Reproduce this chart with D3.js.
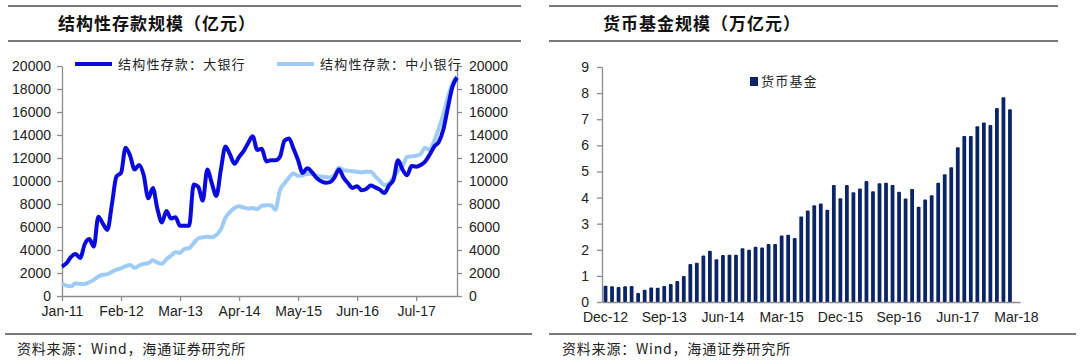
<!DOCTYPE html>
<html>
<head>
<meta charset="utf-8">
<script src="https://cdn.jsdelivr.net/npm/d3@7"></script>
<style>
  body { margin: 0; background: #fff; }
  svg { display: block; }
  .tick text { font-family: Arial, "Liberation Sans", sans-serif; font-size: 14px; fill: #222; }
  .cjk { font-family: "Noto Sans CJK SC", sans-serif; }
</style>
</head>
<body>
<svg id="chart" width="1080" height="364"></svg>
<script>
// ---- left panel: structured deposits (100m yuan), monthly Jan-11 .. Apr-18
const depositTicks = ['Jan-11', 'Feb-12', 'Mar-13', 'Apr-14', 'May-15', 'Jun-16', 'Jul-17'];
const bigBanks = [
  2550, 2850, 3400, 3650, 3300, 4500, 4950, 4300, 6900, 6300,
  5750, 8000, 10400, 10700, 12900, 12200, 11000, 11400, 10500, 8500,
  9400, 7600, 6400, 7400, 6750, 6850, 6100, 6100, 6100, 9700,
  9500, 8300, 11000, 9800, 8700, 11000, 13000, 12300, 11500, 12100,
  12600, 13300, 13900, 12700, 12800, 11700, 11800, 11800, 12100, 13500,
  13700, 12800, 11800, 10700, 11100, 10800, 10300, 10000, 9850, 9900,
  10300, 11000, 10300, 9800, 9400, 9550, 9200, 9300, 9600, 9450,
  9250, 8950, 9600, 10100, 11800, 11000, 10500, 11300, 11250, 11400,
  11700, 12300, 13000, 13400, 14500, 16400, 18200, 19000
];
const smallBanks = [
  1100, 900, 850, 1100, 1050, 1040, 1200, 1400, 1700, 1850,
  1900, 2100, 2300, 2400, 2600, 2700, 2450, 2650, 2800, 2850,
  3100, 2900, 2800, 3200, 3500, 3800, 3750, 4100, 4150, 4600,
  5000, 5100, 5150, 5100, 5300, 5800, 6800, 7300, 7650, 7800,
  7700, 7600, 7650, 7550, 7850, 7900, 7900, 7500, 9200, 9800,
  10300, 10650, 10450, 10500, 10600, 10600, 10450, 10400, 10350, 10300,
  10500, 11150, 10950, 10900, 10850, 10800, 10750, 10800, 10800, 10400,
  10000, 9650, 9800, 10300, 10900, 11300, 12100, 12150, 12200, 12350,
  12900, 12700, 13500, 14600, 15800, 17300, 18500, 19100
];
const depositNames = ['结构性存款：大银行', '结构性存款：中小银行'];

// ---- right panel: money market fund size (trillion yuan), monthly Dec-12 .. Mar-18
const fundTicks = ['Dec-12', 'Sep-13', 'Jun-14', 'Mar-15', 'Dec-15', 'Sep-16', 'Jun-17', 'Mar-18'];
const fundSize = [
  0.62, 0.60, 0.57, 0.60, 0.61, 0.34, 0.47, 0.56, 0.55, 0.61,
  0.69, 0.80, 1.00, 1.46, 1.50, 1.78, 1.96, 1.64, 1.80, 1.81,
  1.81, 2.06, 2.00, 2.12, 2.09, 2.22, 2.22, 2.55, 2.58, 2.45,
  3.27, 3.50, 3.71, 3.77, 3.53, 4.48, 3.97, 4.48, 4.20, 4.35,
  4.63, 4.24, 4.55, 4.57, 4.48, 4.22, 3.96, 4.33, 3.65, 3.93,
  4.09, 4.57, 4.89, 5.16, 5.93, 6.36, 6.36, 6.73, 6.87, 6.78,
  7.43, 7.84, 7.38
];
const fundName = '货币基金';

const fmt = d3.timeFormat('%b-%y');
const depositMonths = d3.timeMonth.range(new Date(2011, 0, 1), new Date(2018, 4, 1)).map(fmt);
const fundMonths = d3.timeMonth.range(new Date(2012, 11, 1), new Date(2018, 3, 1)).map(fmt);

const svg = d3.select('#chart');
const grey = '#8c8c8c';
const rule = '#4d4d4d';

// frame rules, titles and source lines
const panels = [
  { x0: 8, x1: 521, fx0: 5, fx1: 532, title: '结构性存款规模（亿元）', tx: 58, sx: 17 },
  { x0: 549, x1: 1058, fx0: 549, fx1: 1076, title: '货币基金规模（万亿元）', tx: 603, sx: 562 }
];
panels.forEach(p => {
  svg.append('line').attr('x1', p.x0).attr('x2', p.x1).attr('y1', 6).attr('y2', 6)
    .attr('stroke', rule).attr('stroke-width', 1.5);
  svg.append('line').attr('x1', p.x0).attr('x2', p.x1).attr('y1', 41).attr('y2', 41)
    .attr('stroke', rule).attr('stroke-width', 1.5);
  svg.append('line').attr('x1', p.fx0).attr('x2', p.fx1).attr('y1', 334).attr('y2', 334)
    .attr('stroke', rule).attr('stroke-width', 1.5);
  svg.append('text').attr('class', 'cjk').attr('x', p.tx).attr('y', 30)
    .attr('font-size', 17).attr('font-weight', 'bold').attr('fill', '#111')
    .attr('letter-spacing', 1)
    .text(p.title);
  svg.append('text').attr('class', 'cjk').attr('x', p.sx).attr('y', 354)
    .attr('font-size', 14).attr('fill', '#222').attr('letter-spacing', 0.8)
    .text('资料来源：Wind，海通证券研究所');
});

function styleAxis(g) {
  g.selectAll('.domain').attr('stroke', grey).attr('stroke-width', 1.3);
  g.selectAll('.tick line').attr('stroke', grey).attr('stroke-width', 1.3);
  g.attr('font-family', null).attr('font-size', null);
}

// ---- left chart
const xL = d3.scalePoint().domain(depositMonths).range([62, 457]);
const yL = d3.scaleLinear().domain([0, 20000]).range([296, 66]);
const plain = d3.format('d');

svg.append('g').attr('transform', 'translate(62,0)')
  .call(d3.axisLeft(yL).tickValues(d3.range(0, 20001, 2000)).tickFormat(plain)
    .tickSize(5).tickSizeOuter(0).tickPadding(6))
  .call(styleAxis);
svg.append('g').attr('transform', 'translate(457,0)')
  .call(d3.axisRight(yL).tickValues(d3.range(0, 20001, 2000)).tickFormat(plain)
    .tickSize(5).tickSizeOuter(0).tickPadding(7))
  .call(styleAxis);
svg.append('g').attr('transform', 'translate(0,296)')
  .call(d3.axisBottom(xL).tickValues(depositTicks).tickSize(5).tickSizeOuter(0).tickPadding(5))
  .call(styleAxis);

const line = d3.line().x((d, i) => xL(depositMonths[i])).y(d => yL(d)).curve(d3.curveMonotoneX);
const depositColors = ['#0a0adc', '#9fcbf7'];
svg.append('path').datum(smallBanks).attr('d', line)
  .attr('fill', 'none').attr('stroke', depositColors[1]).attr('stroke-width', 4).attr('stroke-linejoin', 'round');
svg.append('path').datum(bigBanks).attr('d', line)
  .attr('fill', 'none').attr('stroke', depositColors[0]).attr('stroke-width', 4).attr('stroke-linejoin', 'round');

// legend
const legendL = [{ x: 75, name: depositNames[0], c: depositColors[0] }, { x: 277, name: depositNames[1], c: depositColors[1] }];
legendL.forEach(d => {
  svg.append('line').attr('x1', d.x).attr('x2', d.x + 37).attr('y1', 64).attr('y2', 64)
    .attr('stroke', d.c).attr('stroke-width', 4);
  svg.append('text').attr('class', 'cjk').attr('x', d.x + 43).attr('y', 69)
    .attr('font-size', 13).attr('letter-spacing', 1.2).attr('fill', '#222').text(d.name);
});

// ---- right chart
const xR = d3.scaleBand().domain(fundMonths).range([602, 1020]).paddingInner(0.42).paddingOuter(0.25);
const yR = d3.scaleLinear().domain([0, 9]).range([302, 67]);

svg.append('g').attr('transform', 'translate(602,0)')
  .call(d3.axisLeft(yR).ticks(9).tickSize(5).tickSizeOuter(0).tickPadding(8))
  .call(styleAxis);
svg.append('g').attr('transform', 'translate(0,302)')
  .call(d3.axisBottom(xR).tickValues(fundTicks).tickSize(0).tickSizeOuter(0).tickPadding(10))
  .call(styleAxis);

svg.append('g').selectAll('rect').data(fundSize).join('rect')
  .attr('x', (d, i) => xR(fundMonths[i]))
  .attr('width', xR.bandwidth())
  .attr('y', d => yR(d))
  .attr('height', d => yR(0) - yR(d))
  .attr('rx', 1)
  .attr('fill', '#0b2466');

svg.append('rect').attr('x', 750).attr('y', 77).attr('width', 8).attr('height', 9).attr('fill', '#0b2466');
svg.append('text').attr('class', 'cjk').attr('x', 761).attr('y', 86)
  .attr('font-size', 13).attr('letter-spacing', 1.2).attr('fill', '#222').text(fundName);
</script>
</body>
</html>
